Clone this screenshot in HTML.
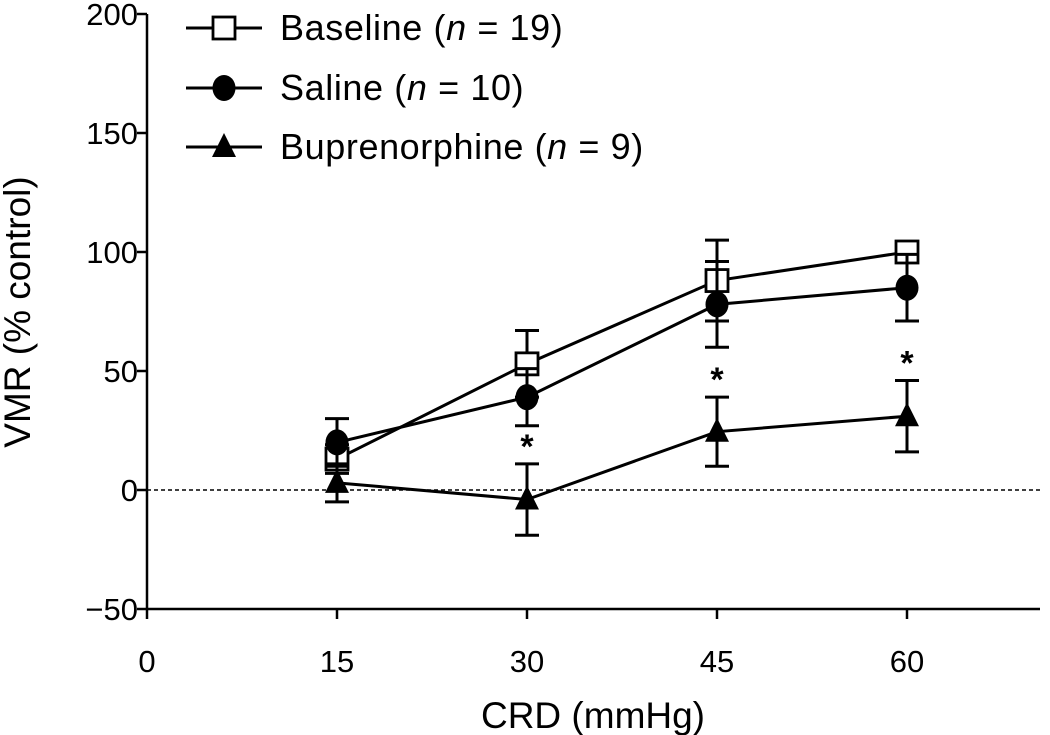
<!DOCTYPE html>
<html><head><meta charset="utf-8"><style>
html,body{margin:0;padding:0;background:#fff;}
svg{display:block;font-family:"Liberation Sans",Arial,sans-serif;}
</style></head><body>
<svg id="chart" width="1050" height="735" viewBox="0 0 1050 735"></svg>
<script>
const categories = [15, 30, 45, 60];
const baselineMean = [13, 53, 88, 100];
const baselineErr = [6, 14, 17, 3];
const salineMean = [20, 39, 78, 85];
const salineErr = [10, 12, 18, 14];
const bupMean = [3, -4, 24.5, 31];
const bupErr = [8, 15, 14.5, 15];
const sigFlags = [false, true, true, true];
const yTicks = [-50, 0, 50, 100, 150, 200];
const yTickLabels = ["\u221250", "0", "50", "100", "150", "200"];
const xTicks = [0, 15, 30, 45, 60];
const xTickLabels = ["0", "15", "30", "45", "60"];

const NS = "http://www.w3.org/2000/svg";
const svg = document.getElementById("chart");
const X0 = 147, XS = 190/15;
const Y0 = 490, YS = 119/50;
const xs = v => X0 + v*XS;
const ys = v => Y0 - v*YS;
function el(tag, attrs, parent){
  const e = document.createElementNS(NS, tag);
  for (const k in attrs) e.setAttribute(k, attrs[k]);
  (parent||svg).appendChild(e);
  return e;
}
let a = el("line",{x1:X0,y1:ys(-50),x2:X0,y2:ys(200),stroke:"#000","stroke-width":2.5});


a = el("line",{x1:X0,y1:ys(-50),x2:1040,y2:ys(-50),stroke:"#000","stroke-width":2.5});


a = el("line",{x1:X0,y1:Y0,x2:1040,y2:Y0,stroke:"#000","stroke-width":1.5,"stroke-dasharray":"4,3"});


yTicks.forEach((t,i)=>{
  const tk = el("line",{x1:X0-10,y1:ys(t),x2:X0,y2:ys(t),stroke:"#000","stroke-width":2.5});
  
  
  const tx = el("text",{x:X0-9,y:ys(t)+11,"text-anchor":"end","font-size":31,fill:"#000"});
  tx.textContent = yTickLabels[i];
  
  
});
xTicks.forEach((t,i)=>{
  const tk = el("line",{x1:xs(t),y1:ys(-50),x2:xs(t),y2:ys(-50)+10,stroke:"#000","stroke-width":2.5});
  
  
  const tx = el("text",{x:xs(t),y:ys(-50)+63,"text-anchor":"middle","font-size":31,fill:"#000"});
  tx.textContent = xTickLabels[i];
  
  
});
let t = el("text",{x:593,y:728,"text-anchor":"middle","font-size":37,fill:"#000"});
t.textContent = "CRD (mmHg)";


t = el("text",{x:0,y:0,"text-anchor":"middle","font-size":37,fill:"#000",transform:"translate(30,312) rotate(-90)"});
t.textContent = "VMR (% control)";



function marker(kind, cx, cy, g){
  let m;
  if (kind==="square") m = el("rect",{x:cx-11,y:cy-11,width:22,height:22,fill:"#fff",stroke:"#000","stroke-width":2.8},g);
  else if (kind==="circle") m = el("ellipse",{cx:cx,cy:cy,rx:11.5,ry:13,fill:"#000"},g);
  else m = el("polygon",{points:`${cx},${cy-14} ${cx-12},${cy+10} ${cx+12},${cy+10}`,fill:"#000"},g);
  return m;
}
function series(name, means, errs, kind){
  const g = el("g",{});
  
  
  const pts = categories.map((c,i)=>xs(c)+","+ys(means[i])).join(" ");
  const pl = el("polyline",{points:pts,fill:"none",stroke:"#000","stroke-width":3},g);
  
  
  categories.forEach((c,i)=>{
    const x = xs(c), y1 = ys(means[i]+errs[i]), y2 = ys(means[i]-errs[i]);
    const eg = el("g",{stroke:"#000","stroke-width":3},g);
    
    
    el("line",{x1:x,y1:y1,x2:x,y2:y2},eg);
    el("line",{x1:x-12,y1:y1,x2:x+12,y2:y1},eg);
    el("line",{x1:x-12,y1:y2,x2:x+12,y2:y2},eg);
  });
  categories.forEach((c,i)=>{
    const m = marker(kind, xs(c), ys(means[i]), g);
    
    
  });
}
series("baseline", baselineMean, baselineErr, "square");
series("saline", salineMean, salineErr, "circle");
series("buprenorphine", bupMean, bupErr, "triangle");
categories.forEach((c,i)=>{
  if (!sigFlags[i]) return;
  const s = el("text",{x:xs(c),y:ys(bupMean[i]+bupErr[i])-6,"text-anchor":"middle","font-size":34,"font-weight":"bold",fill:"#000"});
  s.textContent = "*";
  
  
});
const legend = [["square","Baseline","19",28],["circle","Saline","10",88],["triangle","Buprenorphine","9",147]];
legend.forEach(([k,label,n,y])=>{
  const g = el("g",{});
  
  
  el("line",{x1:186,y1:y,x2:262,y2:y,stroke:"#000","stroke-width":3},g);
  marker(k,224,y,g);
  const tx = el("text",{x:280,y:y+12,"font-size":36,"letter-spacing":"0.6",fill:"#000"},g);
  tx.innerHTML = label+' (<tspan font-style="italic">n</tspan> = '+n+')';
});
</script>
</body></html>
